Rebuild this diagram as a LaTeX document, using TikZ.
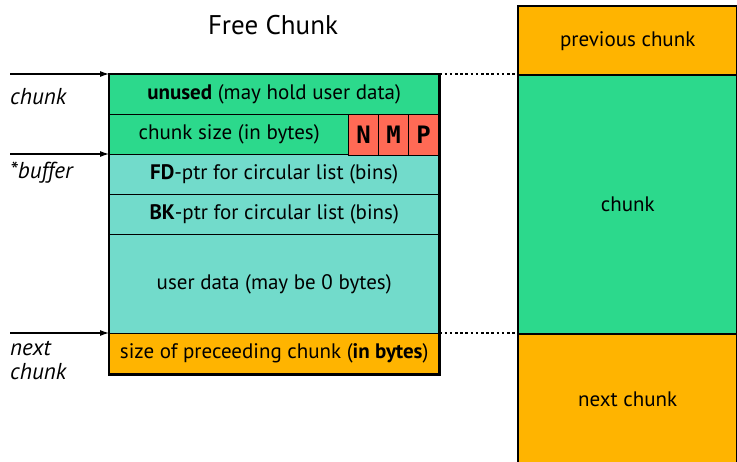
\documentclass[tikz,border=0pt]{standalone}
\usepackage{fontspec}
\setmainfont{PT Sans}
\newfontfamily\flagfont{DejaVu Sans Mono}
\usetikzlibrary{arrows.meta}
\definecolor{cgreen}{HTML}{2CD98C}
\definecolor{cteal}{HTML}{72DBCB}
\definecolor{corange}{HTML}{FFB400}
\definecolor{cred}{HTML}{FF6A55}
\tikzset{
  field/.style={draw=black, line width=1.4pt, minimum width=329pt, inner sep=0pt, font=\fontsize{21}{23}\selectfont, anchor=north west},
  flag/.style={draw=black, line width=1pt, fill=cred, minimum width=30pt, minimum height=41pt, inner sep=0pt, font=\flagfont\bfseries\fontsize{24}{26}\selectfont, anchor=north west},
  blk/.style={draw=black, line width=2.4pt, minimum width=219pt, inner sep=0pt, font=\fontsize{21}{23}\selectfont, anchor=north west},
  ptr/.style={-{Latex[length=9pt,width=6pt]}, line width=1.1pt},
  ptrlabel/.style={font=\itshape\fontsize{23}{25}\selectfont, anchor=west, align=left, inner sep=0pt},
  guide/.style={line width=2.6pt, dash pattern=on 2.6pt off 2.6pt},
}
\begin{document}
\begin{tikzpicture}[x=1pt,y=-1pt]
\useasboundingbox (0,0) rectangle (737,461);
% title
\node[font=\fontsize{27}{29}\selectfont] (title) at (273,25) {Free Chunk};
% chunk fields
\node[field, fill=cgreen, minimum height=40pt] (unused) at (109,74) {\textbf{unused} (may hold user data)};
\node[field, fill=cgreen, minimum height=40pt] (size) at (109,114) {\hspace*{-90pt}chunk size (in bytes)};
\node[field, fill=cteal, minimum height=40pt] (fd) at (109,154) {\textbf{FD}-ptr for circular list (bins)};
\node[field, fill=cteal, minimum height=40pt] (bk) at (109,194) {\textbf{BK}-ptr for circular list (bins)};
\node[field, fill=cteal, minimum height=99pt] (data) at (109,234) {user data (may be 0 bytes)};
\node[field, fill=corange, minimum height=40pt] (prev) at (109,333) {size of preceeding chunk (\textbf{in bytes})};
\draw[line width=2.4pt] (unused.north west) rectangle (prev.south east);
% flag bits
\node[flag] (n) at (348,114) {N};
\node[flag] (m) at (378,114) {M};
\node[flag] (p) at (408,114) {P};
% heap column
\node[blk, fill=corange, minimum height=69pt] (before) at (517,5) {previous chunk};
\node[blk, fill=cgreen, minimum height=259pt] (cur) at (517,74) {chunk};
\node[blk, fill=corange, minimum height=130pt] (after) at (517,333) {next chunk};
% guides between the two views
\draw[guide] (unused.north east) -- (cur.north west);
\draw[guide] (prev.north east) -- (after.north west);
% pointers
\coordinate (s1) at (10,74);
\coordinate (s2) at (10,154);
\coordinate (s3) at (10,333);
\draw[ptr] (s1) -- (unused.north west);
\draw[ptr] (s2) -- (fd.north west);
\draw[ptr] (s3) -- (prev.north west);
\node[ptrlabel] (l1) at (10,97) {chunk};
\node[ptrlabel] (l2) at (10,173) {*buffer};
\node[ptrlabel, anchor=north west] (l3) at (10,341) {next\\[-1pt]chunk};
\end{tikzpicture}
\end{document}
